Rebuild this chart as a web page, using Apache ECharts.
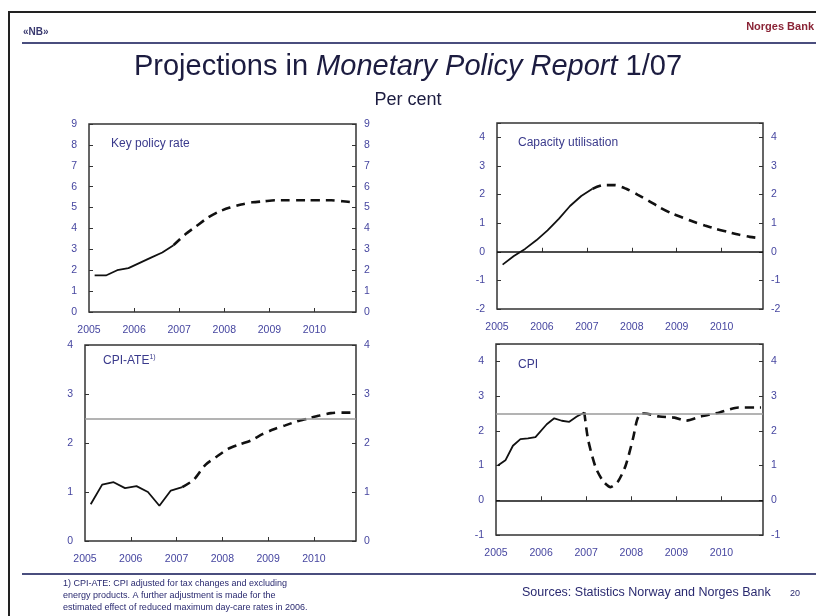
<!DOCTYPE html>
<html>
<head>
<meta charset="utf-8">
<title>Projections in Monetary Policy Report 1/07</title>
<script src="https://cdn.jsdelivr.net/npm/echarts@6/dist/echarts.min.js"></script>
<style>
  html, body { margin: 0; padding: 0; background: #fff; }
  #chart { width: 816px; height: 616px; }
</style>
</head>
<body>
<div id="chart"></div>
<script>
// Quarterly series (quarter labels) and monthly CPI (month labels)
const quarters = ['2005Q1','2005Q2','2005Q3','2005Q4','2006Q1','2006Q2','2006Q3','2006Q4',
  '2007Q1','2007Q2','2007Q3','2007Q4','2008Q1','2008Q2','2008Q3','2008Q4',
  '2009Q1','2009Q2','2009Q3','2009Q4','2010Q1','2010Q2','2010Q3','2010Q4'];

const keyPolicyRate = [1.75, 1.75, 2.0, 2.1, 2.35, 2.6, 2.85, 3.2,
  3.7, 4.1, 4.5, 4.8, 5.0, 5.15, 5.25, 5.3,
  5.35, 5.35, 5.35, 5.35, 5.35, 5.35, 5.3, 5.25];
const keyPolicySplit = 7;

const capacityUtilisation = [-0.45, -0.15, 0.1, 0.4, 0.75, 1.15, 1.6, 1.95,
  2.2, 2.33, 2.33, 2.2, 2.0, 1.78, 1.55, 1.35,
  1.2, 1.05, 0.92, 0.8, 0.7, 0.6, 0.52, 0.47];
const capacitySplit = 8;

const cpiAte = [0.75, 1.15, 1.2, 1.08, 1.12, 1.0, 0.72, 1.03,
  1.1, 1.25, 1.55, 1.72, 1.88, 1.97, 2.05, 2.18,
  2.28, 2.36, 2.44, 2.5, 2.56, 2.61, 2.62, 2.62];
const cpiAteSplit = 8;

const cpiMonths = ['2005-01','2005-03','2005-05','2005-07','2005-09','2005-11',
  '2006-02','2006-04','2006-06','2006-08','2006-10','2006-12',
  '2007-01','2007-03','2007-05','2007-07','2007-09','2007-11',
  '2008-01','2008-02','2008-03','2008-04','2008-08','2008-12',
  '2009-03','2009-07','2009-12','2010-05','2010-11'];
const cpi = [1.0, 1.15, 1.57, 1.76, 1.78, 1.82,
  2.19, 2.36, 2.29, 2.26, 2.41, 2.53,
  1.75, 0.95, 0.55, 0.38, 0.55, 1.0,
  1.8, 2.3, 2.5, 2.5, 2.41, 2.38,
  2.29, 2.41, 2.53, 2.67, 2.67];
const cpiSplit = 11;

const yearLabels = [2005, 2006, 2007, 2008, 2009, 2010];
const inflationTarget = 2.5;

const toQuarterX = q => +q.slice(0, 4) + (+q.slice(5) - 1) / 4 + 0.125;
const toMonthX = m => +m.slice(0, 4) + (+m.slice(5) - 0.5) / 12;

const pairs = (xs, ys) => ys.map((v, i) => [xs[i], v]);
const quarterX = quarters.map(toQuarterX);
const monthX = cpiMonths.map(toMonthX);

const navy = '#3a3a8c';
const labelColor = '#4646a0';
const labelFont = 'Liberation Sans';

const grids = [
  { left: 89, top: 124, width: 267, height: 188 },
  { left: 497, top: 123, width: 266, height: 186 },
  { left: 85, top: 345, width: 271, height: 196 },
  { left: 496, top: 344, width: 267, height: 191 }
];
const yRanges = [[0, 9], [-2, 4.5], [0, 4], [-1, 4.5]];

function xAxis(i) {
  return {
    type: 'value', gridIndex: i, min: 2005, max: 2010.92,
    axisLine: { show: false },
    splitLine: { show: false },
    axisTick: { inside: true, length: 4, lineStyle: { color: '#333' }, customValues: yearLabels.slice(1) },
    axisLabel: { customValues: yearLabels, margin: 13, color: labelColor, fontSize: 10.5, fontFamily: labelFont,
      formatter: v => String(v) }
  };
}

function yAxis(i, pos) {
  return {
    type: 'value', gridIndex: i, position: pos, min: yRanges[i][0], max: yRanges[i][1], interval: 1,
    axisLine: { show: false },
    splitLine: { show: false },
    axisTick: { show: true, inside: true, length: 4, lineStyle: { color: '#333' } },
    axisLabel: { margin: pos === 'left' ? 12 : 8, color: labelColor, fontSize: 10.5, fontFamily: labelFont,
      formatter: v => (Number.isInteger(v) ? String(v) : '') }
  };
}

function lineSeries(i, data, dashed) {
  return {
    type: 'line', xAxisIndex: i, yAxisIndex: i * 2, data: data,
    showSymbol: false, smooth: dashed ? 0.25 : false, silent: true,
    lineStyle: { color: '#111', width: dashed ? 2.6 : 1.8, type: dashed ? [9, 6] : 'solid' }
  };
}

function refLine(i, y, color, width) {
  return {
    type: 'line', xAxisIndex: i, yAxisIndex: i * 2, data: [], silent: true,
    markLine: { symbol: 'none', silent: true, label: { show: false },
      lineStyle: { color: color, width: width, type: 'solid' }, data: [{ yAxis: y }] }
  };
}

function split(xs, ys, k) {
  const all = pairs(xs, ys);
  return [all.slice(0, k + 1), all.slice(k)];
}

const [keyA, keyP] = split(quarterX, keyPolicyRate, keyPolicySplit);
const [capA, capP] = split(quarterX, capacityUtilisation, capacitySplit);
const [ateA, ateP] = split(quarterX, cpiAte, cpiAteSplit);
const [cpiA, cpiP] = split(monthX, cpi, cpiSplit);

const chart = echarts.init(document.getElementById('chart'));

const panelTitle = (text, left, top) => ({
  text: text, left: left, top: top,
  textStyle: { color: navy, fontSize: 12, fontWeight: 'normal', fontFamily: labelFont,
    rich: { sup: { fontSize: 7, color: navy, verticalAlign: 'top', padding: [0, 0, 6, 0] } } }
});

chart.setOption({
  animation: false,
  backgroundColor: '#fff',
  title: [
    {
      text: '{n|Projections in }{i|Monetary Policy Report}{n| 1/07}',
      left: 'center', top: 47,
      textStyle: { fontWeight: 'normal', rich: {
        n: { fontSize: 29, color: '#1c1c40', fontFamily: labelFont, fontWeight: 'normal' },
        i: { fontSize: 29, color: '#1c1c40', fontFamily: labelFont, fontWeight: 'normal', fontStyle: 'italic' }
      } }
    },
    { text: 'Per cent', left: 'center', top: 86,
      textStyle: { fontSize: 18, fontWeight: 'normal', color: '#1c1c40', fontFamily: labelFont } },
    panelTitle('Key policy rate', 106, 133),
    panelTitle('Capacity utilisation', 513, 132),
    panelTitle('CPI-ATE{sup|1)}', 98, 349),
    panelTitle('CPI', 513, 354)
  ],
  graphic: [
    { type: 'rect', shape: { x: 9, y: 12, width: 830, height: 640 },
      style: { fill: 'none', stroke: '#222', lineWidth: 2 }, silent: true },
    { type: 'line', shape: { x1: 22, y1: 43, x2: 816, y2: 43 },
      style: { stroke: '#4a4e7e', lineWidth: 2 }, silent: true },
    { type: 'line', shape: { x1: 22, y1: 574, x2: 816, y2: 574 },
      style: { stroke: '#4a4e7e', lineWidth: 2 }, silent: true },
    { type: 'text', left: 23, top: 27,
      style: { text: '«NB»', fill: '#3a3a70', font: 'bold 10px "Liberation Sans"' } },
    { type: 'text', right: 2, top: 21,
      style: { text: 'Norges Bank', fill: '#8a2436', font: 'bold 11px "Liberation Sans"' } },
    { type: 'text', left: 63, top: 578,
      style: { text: '1) CPI-ATE: CPI adjusted for tax changes and excluding\nenergy products. A further adjustment is made for the\nestimated effect of reduced maximum day-care rates in 2006.',
        fill: '#2a2a70', font: '9px "Liberation Sans"', lineHeight: 12 } },
    { type: 'text', left: 522, top: 586,
      style: { text: 'Sources: Statistics Norway and Norges Bank', fill: '#2a2a70', font: '12.5px "Liberation Sans"' } },
    { type: 'text', left: 790, top: 589,
      style: { text: '20', fill: '#2a2a70', font: '9px "Liberation Sans"' } }
  ],
  grid: grids.map(g => Object.assign({ show: true, borderColor: '#333', borderWidth: 1.5, backgroundColor: '#fff' }, g)),
  xAxis: [0, 1, 2, 3].map(xAxis),
  yAxis: [0, 1, 2, 3].flatMap(i => [yAxis(i, 'left'), yAxis(i, 'right')]),
  series: [
    refLine(1, 0, '#111', 1.5),
    refLine(2, inflationTarget, '#9a9a9a', 1.5),
    refLine(3, 0, '#111', 1.5),
    refLine(3, inflationTarget, '#9a9a9a', 1.5),
    lineSeries(0, keyA, false), lineSeries(0, keyP, true),
    lineSeries(1, capA, false), lineSeries(1, capP, true),
    lineSeries(2, ateA, false), lineSeries(2, ateP, true),
    lineSeries(3, cpiA, false), lineSeries(3, cpiP, true)
  ]
});

window.addEventListener('resize', () => chart.resize());
</script>
</body>
</html>
